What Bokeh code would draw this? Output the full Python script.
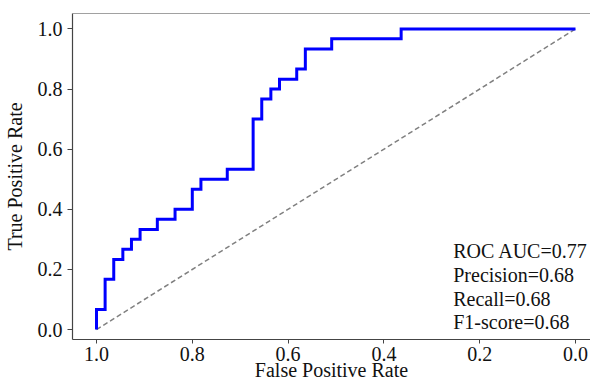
from bokeh.plotting import figure
from bokeh.models import Range1d, FixedTicker, Span, Label
from bokeh.embed import file_html
from bokeh.resources import INLINE

# ROC curve vertices (x axis shown reversed: 1.0 on the left)
roc_x = [1.0, 1.0, 0.982, 0.964, 0.945, 0.927, 0.909, 0.873, 0.836, 0.8, 0.782,
         0.727, 0.673, 0.655, 0.636, 0.618, 0.582, 0.564, 0.509, 0.364, 0.0]
roc_y = [0.0, 0.067, 0.167, 0.233, 0.267, 0.3, 0.333, 0.367, 0.4, 0.467, 0.5,
         0.533, 0.7, 0.767, 0.8, 0.833, 0.867, 0.933, 0.967, 1.0, 1.0]

chance_x = [1.0, 0.0]
chance_y = [0.0, 1.0]

tick_values = [0.0, 0.2, 0.4, 0.6, 0.8, 1.0]
tick_labels = ["0.0", "0.2", "0.4", "0.6", "0.8", "1.0"]

metric_texts = ["ROC AUC=0.77", "Precision=0.68", "Recall=0.68", "F1-score=0.68"]

x_label = "False Positive Rate"
y_label = "True Positive Rate"

# expand into a step line (hold y, then jump at next x)
step_x, step_y = [roc_x[0]], [roc_y[0]]
for i in range(1, len(roc_x)):
    step_x.append(roc_x[i]); step_y.append(roc_y[i - 1])
    step_x.append(roc_x[i]); step_y.append(roc_y[i])

FONT = "Liberation Serif"
FS = "20px"
SPINE = "#444444"
Y_TOP = 1.0514

p = figure(width=590, height=383, output_backend="svg", toolbar_location=None,
           x_range=Range1d(1.0501, -0.0313), y_range=Range1d(-0.0332, Y_TOP),
           min_border_left=72, min_border_top=13, min_border_right=0, min_border_bottom=43)

p.outline_line_color = None
p.xgrid.visible = False
p.ygrid.visible = False
p.background_fill_color = "white"
p.border_fill_color = "white"

p.line(chance_x, chance_y, line_color="#808080", line_width=1.5, line_dash="5 3")
p.line(step_x, step_y, line_color="#0000ff", line_width=3, line_join="miter")

# top spine
p.add_layout(Span(location=Y_TOP, dimension="width", line_color=SPINE, line_width=1.2))

for ax in (p.xaxis[0], p.yaxis[0]):
    ax.ticker = FixedTicker(ticks=tick_values)
    ax.major_label_overrides = {v: l for v, l in zip(tick_values, tick_labels)}
    ax.minor_tick_line_color = None
    ax.major_tick_in = 0
    ax.major_tick_out = 5
    ax.major_tick_line_color = SPINE
    ax.axis_line_color = SPINE
    ax.axis_line_width = 1.2
    ax.major_label_text_font = FONT
    ax.major_label_text_font_size = FS
    ax.major_label_text_color = "#111111"
    ax.axis_label_text_font = FONT
    ax.axis_label_text_font_size = FS
    ax.axis_label_text_font_style = "normal"
    ax.axis_label_text_color = "#111111"

p.xaxis[0].axis_label = x_label
p.yaxis[0].axis_label = y_label
p.xaxis[0].major_tick_out = 4
p.xaxis[0].major_label_standoff = 3
p.xaxis[0].axis_label_standoff = -5
p.yaxis[0].major_label_standoff = 5
p.yaxis[0].axis_label_standoff = 9
p.yaxis[0].major_label_orientation = "horizontal"

text_x = 0.2553
text_ys = [0.262, 0.181, 0.103, 0.024]
for t, yy in zip(metric_texts, text_ys):
    p.add_layout(Label(x=text_x, y=yy, text=t, text_font=FONT, text_font_size=FS,
                       text_color="#111111", text_baseline="alphabetic", text_align="left"))

open("out.html", "w").write(file_html(p, INLINE))
